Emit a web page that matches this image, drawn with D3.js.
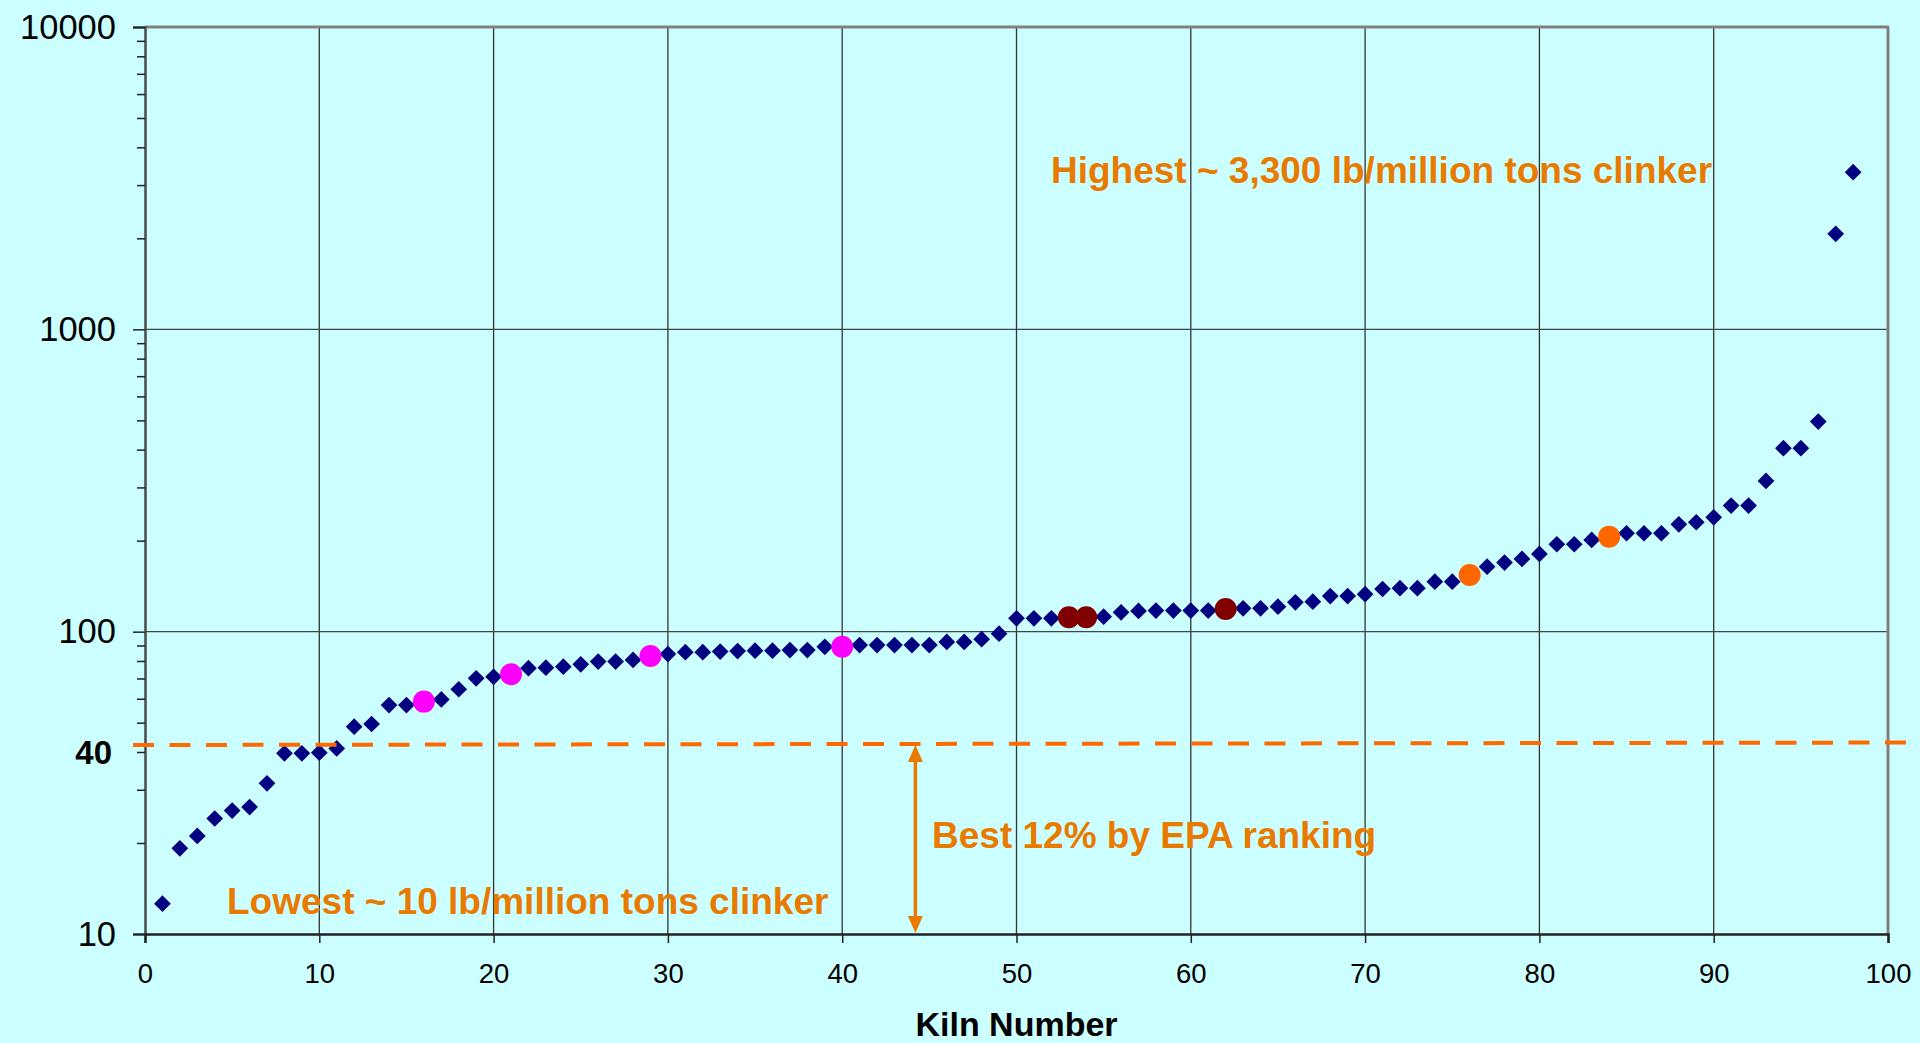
<!DOCTYPE html>
<html>
<head>
<meta charset="utf-8">
<script src="https://cdn.jsdelivr.net/npm/d3@7"></script>
<style>
  html, body { margin: 0; padding: 0; background: #CCFFFF; overflow: hidden; }
  svg { display: block; font-family: Arial, "Liberation Sans", sans-serif; }
</style>
</head>
<body>
<svg id="chart" width="1920" height="1043"></svg>
<script>
// ---- Data ----
const kilnNumbers = d3.range(1, 99);
const emissionValues = [
  12.6, 19.2, 21.1, 24.1, 25.6, 26.3, 31.5, 39.6, 39.6, 39.8,
  41.1, 48.5, 49.5, 57.2, 57.2, 58.7, 59.7, 64.5, 70.1, 70.9,
  72.3, 75.7, 76.0, 76.6, 78.0, 79.6, 79.6, 80.6, 83.1, 84.3,
  85.5, 85.5, 85.9, 86.3, 86.5, 86.5, 86.9, 86.9, 89.1, 89.1,
  90.3, 90.3, 90.3, 90.3, 90.3, 92.5, 92.5, 94.4, 98.5, 110.7,
  110.7, 110.7, 111.6, 111.6, 112.1, 115.9, 117.1, 117.4, 117.4, 117.4,
  117.4, 118.9, 119.5, 119.5, 121.0, 125.1, 125.7, 131.2, 131.2, 133.0,
  138.4, 139.2, 139.2, 146.3, 146.3, 154.0, 164.1, 169.2, 174.0, 180.7,
  194.6, 194.6, 201.1, 206.2, 211.6, 211.6, 211.6, 226.6, 230.1, 239.0,
  261.2, 261.2, 315.1, 404.4, 404.4, 495.2, 2069, 3309
];
const magentaKilns = [16, 21, 29, 40];
const darkRedKilns = [53, 54, 62];
const orangeKilns = [76, 84];
const xTicks = [0, 10, 20, 30, 40, 50, 60, 70, 80, 90, 100];
const yMajorTicks = [10, 100, 1000, 10000];
const thresholdValue = 42.5;
const annotations = [
  { text: "Highest ~ 3,300 lb/million tons clinker" },
  { text: "Lowest ~ 10 lb/million tons clinker" },
  { text: "Best 12% by EPA ranking" }
];

// ---- Layout ----
const L = 145, R = 1888, T = 27, B = 934;
const svg = d3.select("#chart");
const x = d3.scaleLinear().domain([0, 100]).range([L, R]);
const y = d3.scaleLog().domain([10, 10000]).range([B, T]);

const orangeText = "#E97A00";
const orangeLine = "#FF6A00";

// gridlines
const grid = svg.append("g");
grid.selectAll("line.v").data(xTicks.filter(d => d > 0 && d < 100)).join("line")
  .attr("x1", d => x(d)).attr("x2", d => x(d)).attr("y1", T).attr("y2", B)
  .attr("stroke", "#333").attr("stroke-width", 1.3);
grid.selectAll("line.h").data([100, 1000]).join("line")
  .attr("x1", L).attr("x2", R).attr("y1", d => y(d)).attr("y2", d => y(d))
  .attr("stroke", "#444").attr("stroke-width", 1.3);

// border top/right
svg.append("line").attr("x1", L).attr("x2", R + 1).attr("y1", T).attr("y2", T)
  .attr("stroke", "#808080").attr("stroke-width", 3);
svg.append("line").attr("x1", R).attr("x2", R).attr("y1", T).attr("y2", B)
  .attr("stroke", "#808080").attr("stroke-width", 3);

// y axis
const minorTicks = [];
[10, 100, 1000].forEach(dec => { for (let k = 2; k <= 9; k++) minorTicks.push(dec * k); });
const yAxis = d3.axisLeft(y).tickValues(yMajorTicks).tickFormat(d3.format("d")).tickSize(12).tickPadding(17);
const yg = svg.append("g").attr("transform", `translate(${L},0)`).call(yAxis);
yg.select(".domain").attr("stroke", "#4a4a4a").attr("stroke-width", 2.5);
yg.selectAll(".tick line").attr("stroke", "#222").attr("stroke-width", 1.5);
yg.selectAll(".tick text").attr("font-size", 34.5).attr("fill", "#000")
  .attr("font-family", "Arial, 'Liberation Sans', sans-serif");
const yMinor = d3.axisLeft(y).tickValues(minorTicks).tickFormat("").tickSize(8);
const ym = svg.append("g").attr("transform", `translate(${L},0)`).call(yMinor);
ym.select(".domain").remove();
ym.selectAll(".tick line").attr("stroke", "#222").attr("stroke-width", 1.5);

// x axis
const xAxis = d3.axisBottom(x).tickValues(xTicks).tickSize(9).tickPadding(20);
const xg = svg.append("g").attr("transform", `translate(0,${B})`).call(xAxis);
xg.select(".domain").attr("stroke", "#222").attr("stroke-width", 2.5);
xg.selectAll(".tick line").attr("stroke", "#222").attr("stroke-width", 1.5);
xg.selectAll(".tick text").attr("font-size", 27.5).attr("fill", "#000")
  .attr("font-family", "Arial, 'Liberation Sans', sans-serif");

// bold 40 label
svg.append("text").attr("x", 112).attr("y", y(40)).attr("dy", "0.36em")
  .attr("text-anchor", "end").attr("font-size", 33).attr("font-weight", "bold")
  .text("40");

// x axis title
svg.append("text").attr("x", (L + R) / 2).attr("y", 1036)
  .attr("text-anchor", "middle").attr("font-size", 34).attr("font-weight", "bold")
  .text("Kiln Number");

// points
const points = kilnNumbers.map((k, i) => ({ k, v: emissionValues[i] }));
const special = new Set([...magentaKilns, ...darkRedKilns, ...orangeKilns]);
const diamond = d3.symbol().type(d3.symbolSquare).size(140);
svg.append("g").selectAll("path").data(points.filter(p => !special.has(p.k))).join("path")
  .attr("d", diamond)
  .attr("transform", p => `translate(${x(p.k)},${y(p.v)}) rotate(45)`)
  .attr("fill", "#000080");

function circles(list, color) {
  svg.append("g").selectAll("circle").data(points.filter(p => list.includes(p.k))).join("circle")
    .attr("cx", p => x(p.k)).attr("cy", p => y(p.v)).attr("r", 11)
    .attr("fill", color);
}
circles(magentaKilns, "#FF00FF");
circles(darkRedKilns, "#800000");
circles(orangeKilns, "#FF6600");

// threshold dashed line
svg.append("line").attr("x1", 133).attr("x2", 1920)
  .attr("y1", y(thresholdValue) + 1).attr("y2", y(thresholdValue) - 1.5)
  .attr("stroke", orangeLine).attr("stroke-width", 4)
  .attr("stroke-dasharray", "21 15.5");

// double arrow
const ax = x(44.2);
const aTop = y(thresholdValue) + 1, aBot = B - 1;
svg.append("line").attr("x1", ax).attr("x2", ax).attr("y1", aTop + 12).attr("y2", aBot - 12)
  .attr("stroke", orangeText).attr("stroke-width", 3.5);
svg.append("path").attr("d", `M${ax},${aTop} L${ax - 7.5},${aTop + 17} L${ax + 7.5},${aTop + 17} Z`)
  .attr("fill", orangeText);
svg.append("path").attr("d", `M${ax},${aBot} L${ax - 7.5},${aBot - 17} L${ax + 7.5},${aBot - 17} Z`)
  .attr("fill", orangeText);

// annotations
const annPos = [
  { x: 1051, y: 182.5 },
  { x: 227, y: 914 },
  { x: 932, y: 848 }
];
svg.append("g").selectAll("text").data(annotations).join("text")
  .attr("x", (d, i) => annPos[i].x).attr("y", (d, i) => annPos[i].y)
  .attr("font-size", 37).attr("font-weight", "bold").attr("fill", orangeText)
  .text(d => d.text);
</script>
</body>
</html>
